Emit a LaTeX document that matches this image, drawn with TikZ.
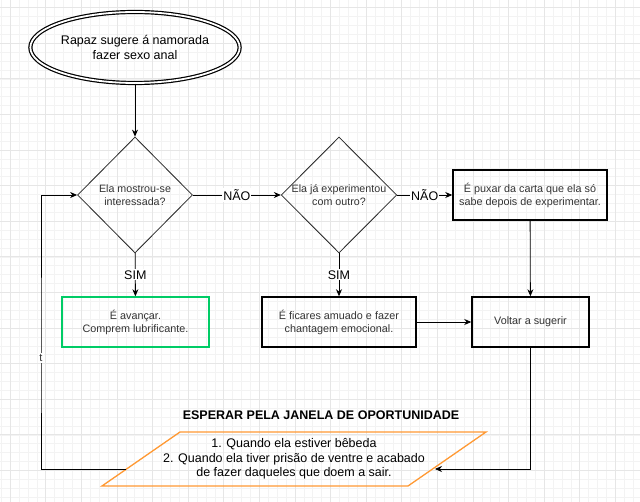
\documentclass[tikz,border=0pt]{standalone}
\usepackage{fontspec}
\setmainfont{Liberation Sans}
\usetikzlibrary{positioning, shapes.geometric, arrows.meta}

\definecolor{gridmaj}{HTML}{E6E6E6}
\definecolor{gridmin}{HTML}{F3F3F3}
\definecolor{okgreen}{HTML}{00CC66}
\definecolor{waitorange}{HTML}{FF9933}
\definecolor{txt}{HTML}{333333}

\begin{document}
\begin{tikzpicture}[x=1pt,y=-1pt,
        startell/.style={ellipse, draw, double, line width=1.2pt, double distance=1.8pt,
            minimum width=186pt, minimum height=71pt, align=center, inner sep=0pt,
            font=\fontsize{12.5}{15}\selectfont},
        question/.style={diamond, draw=black!85, line width=0.8pt, aspect=1,
            minimum width=115pt, minimum height=116pt, inner sep=0pt, align=center,
            text=txt, font=\fontsize{10.7}{13}\selectfont},
        answer/.style={rectangle, draw, line width=1.5pt, minimum width=154pt,
            minimum height=50pt, align=center, text=txt,
            font=\fontsize{10.8}{13}\selectfont},
        waitline/.style={draw=waitorange, line width=1.3pt, line join=miter},
        waittext/.style={inner sep=0pt, align=center, font=\fontsize{12.5}{14.5}\selectfont},
        lbl/.style={fill=white, inner sep=1pt, font=\fontsize{12.5}{15}\selectfont},
        conn/.style={line width=0.8pt, -{Stealth[length=7pt,width=6pt]}}]

    \useasboundingbox (0,0) rectangle (640,502);
    \fill[white] (0,0) rectangle (640,502);
    % grid
    \foreach \i in {-2,...,72} {
        \draw[gridmin, line width=0.6pt] ({10.1+\i*8.9},0) -- ++(0,502);
    }
    \foreach \i in {-2,...,57} {
        \draw[gridmin, line width=0.6pt] (0,{7.7+\i*8.9}) -- ++(640,0);
    }
    \foreach \i in {0,...,18} {
        \draw[gridmaj, line width=0.8pt] ({10.1+\i*35.6},0) -- ++(0,502);
    }
    \foreach \i in {0,...,14} {
        \draw[gridmaj, line width=0.8pt] (0,{7.7+\i*35.6}) -- ++(640,0);
    }

    \node[startell] (start) at (135,47.5) {Rapaz sugere á namorada\\fazer sexo anal};
    \node[question] (interesse) at (135,195) {Ela mostrou-se\\interessada?};
    \node[question] (outro) at (339,195) {Ela já experimentou\\com outro?};
    \node[answer] (puxar) at (530,195) {É puxar da carta que ela só\\sabe depois de experimentar.};
    \node[answer, draw=okgreen, minimum width=147pt] (avancar) at (135.5,322) {É avançar.\\Comprem lubrificante.};
    \node[answer] (amuado) at (339,322) {É ficares amuado e fazer\\chantagem emocional.};
    \node[answer, minimum width=117pt] (voltar) at (530.5,322) {Voltar a sugerir};
    \node[font=\bfseries\fontsize{12.5}{15}\selectfont] (titulo) at (321,415) {ESPERAR PELA JANELA DE OPORTUNIDADE};
    % parallelogram
    \draw[waitline] (102,486) -- (180,432) -- (486,432) -- (408,486) -- cycle;
    \node[waittext] (esperar) at (294,459) {1. Quando ela estiver bêbeda\\2. Quando ela tiver prisão de ventre e acabado\\de fazer daqueles que doem a sair.};
    \coordinate (entra) at (435,469);
    \coordinate (sai) at (126,469);

    \path[conn] (start) edge (interesse)
              (interesse) edge node[lbl]{NÃO} (outro)
              (interesse) edge node[lbl]{SIM} (avancar)
              (outro) edge node[lbl]{NÃO} (puxar)
              (outro) edge node[lbl]{SIM} (amuado)
              (puxar) edge (voltar)
              (amuado) edge (voltar);
    \draw[conn] (voltar.south) |- (entra);
    \draw[conn] (sai) -- ++(-85,0) -- ++(0,-111)
        node[fill=white, inner sep=1pt, font=\fontsize{11}{13}\selectfont, text=txt]{t}
        |- (interesse.west);
\end{tikzpicture}
\end{document}
